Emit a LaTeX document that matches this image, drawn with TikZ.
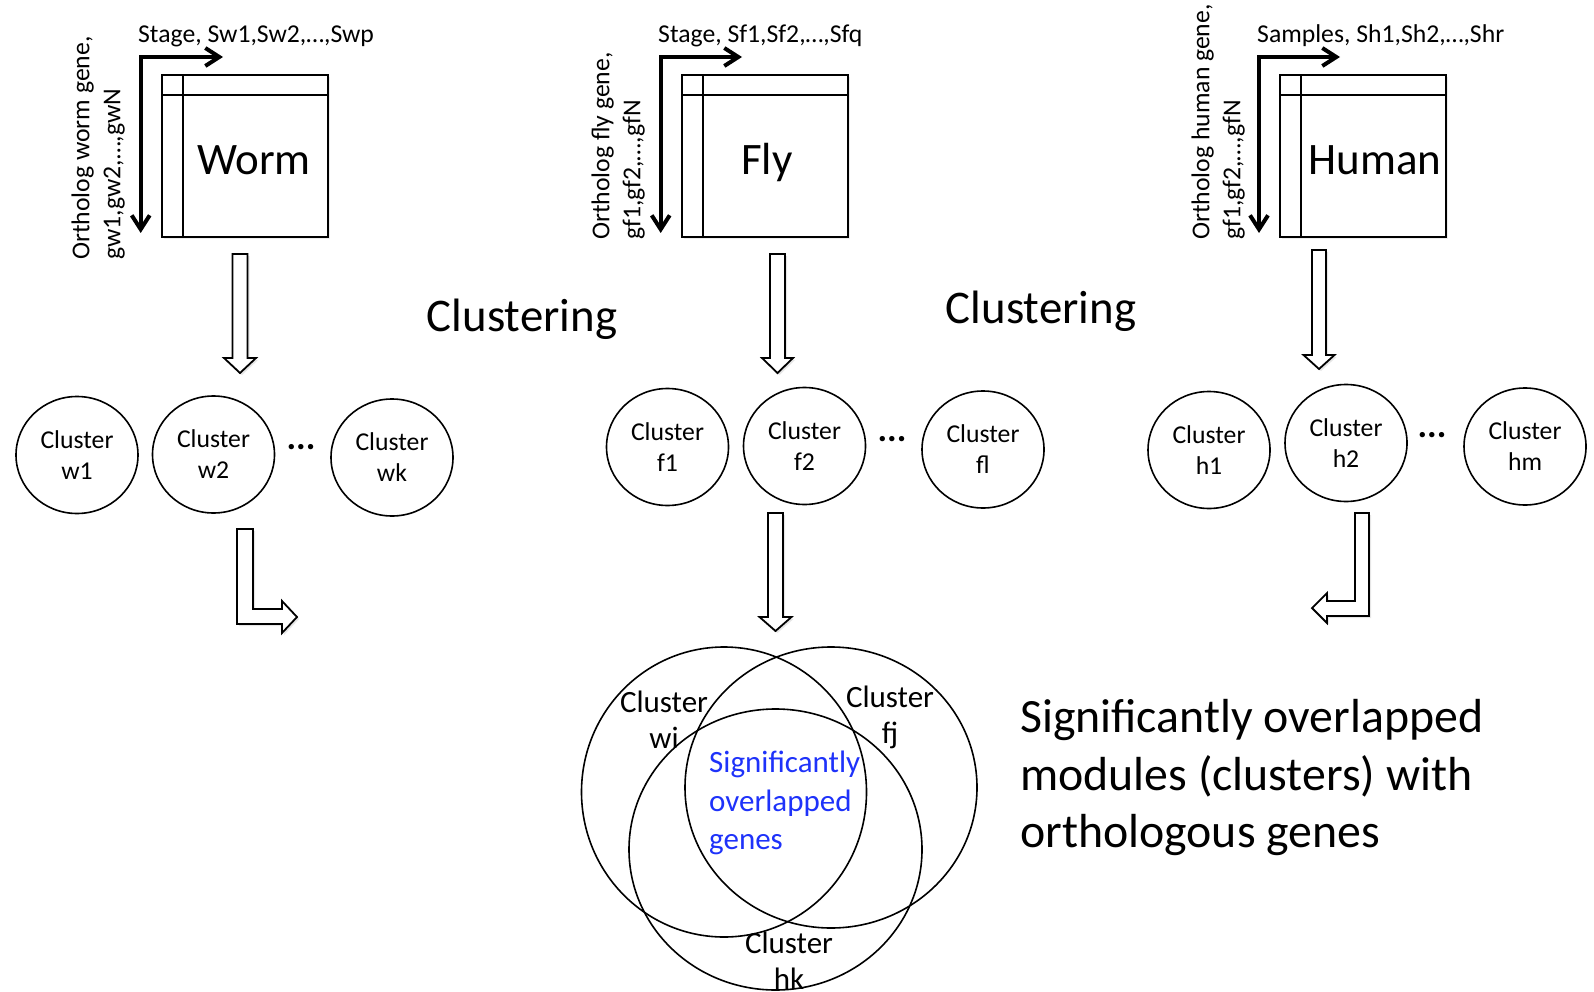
\documentclass[tikz,border=0pt]{standalone}
\usepackage{fontspec}
\setmainfont{Carlito}
\usepackage{tikz}
\usetikzlibrary{arrows.meta,shapes,shadows,positioning}

\definecolor{overlapblue}{RGB}{30,50,250}

\tikzset{
	matrixbox/.style={draw, line width=1.8pt, fill=white, minimum width=166pt, minimum height=162pt, inner sep=0pt,
		drop shadow={opacity=0.15, shadow xshift=2pt, shadow yshift=-2pt}},
	cluster/.style={draw, ellipse, line width=1.6pt, minimum width=122pt, minimum height=117pt, inner sep=0pt,
		align=center, font=\fontsize{25.7}{31}\selectfont},
	venn/.style={draw, ellipse, line width=1.6pt, inner sep=0pt},
	venntext/.style={align=center, inner sep=0pt, font=\fontsize{31}{36}\selectfont},
	hollow/.style={draw, line width=1.8pt, fill=white, line join=miter,
		drop shadow={opacity=0.2, shadow xshift=2pt, shadow yshift=-2pt}},
	axisarrow/.style={line width=4pt, {Straight Barb[length=14pt,width=18pt]}-{Straight Barb[length=14pt,width=18pt]}},
	smalltext/.style={font=\fontsize{25.7}{31}\selectfont, inner sep=0pt},
	bigtext/.style={font=\fontsize{45}{54}\selectfont, inner sep=0pt},
	dotstext/.style={font=\fontsize{36}{40}\selectfont\bfseries, inner sep=0pt},
}

\begin{document}
\begin{tikzpicture}[x=1pt, y=-1pt]
	\useasboundingbox (0,0) rectangle (1594,992);

	% expression matrices
	\node[matrixbox] (worm) at (245,156) {};
	\node[matrixbox] (fly) at (765,156) {};
	\node[matrixbox] (human) at (1363.3,156) {};
	\foreach \m in {worm,fly,human}{
		\draw[line width=1.8pt] ([xshift=21.6pt]\m.north west) -- ([xshift=21.6pt]\m.south west);
		\draw[line width=1.8pt] ([yshift=-20.7pt]\m.north west) -- ([yshift=-20.7pt]\m.north east);
	}
	\node[bigtext, anchor=base] (wormname) at (254,175) {Worm};
	\node[bigtext, anchor=base] (flyname) at (767,175) {Fly};
	\node[bigtext, anchor=base] (humanname) at (1375,175) {Human};

	% row and column axes
	\draw[axisarrow] (140.7,233) |- (223,57);
	\draw[axisarrow] (660.7,233) |- (742,57);
	\draw[axisarrow] (1259,233) |- (1340,57);
	\node[smalltext, anchor=base west] (wormcols) at (138,43) {Stage, Sw1,Sw2,…,Swp};
	\node[smalltext, anchor=base west] (flycols) at (658,43) {Stage, Sf1,Sf2,…,Sfq};
	\node[smalltext, anchor=base west] (humancols) at (1257,43) {Samples, Sh1,Sh2,…,Shr};
	\node[smalltext, rotate=90, anchor=south west, align=left] (wormrows) at (125,260) {Ortholog worm gene,\\gw1,gw2,…,gwN};
	\node[smalltext, rotate=90, anchor=south west, align=left] (flyrows) at (645,240) {Ortholog fly gene,\\gf1,gf2,…,gfN};
	\node[smalltext, rotate=90, anchor=south west, align=left] (humanrows) at (1245,240) {Ortholog human gene,\\gf1,gf2,…,gfN};

	% clustering step
	\draw[hollow] (232.5,254) -- (247.5,254) -- (247.5,358) -- (256,358) -- (240,373) -- (224,358) -- (232.5,358) -- cycle;
	\draw[hollow] (770,254) -- (785,254) -- (785,358) -- (793,358) -- (777.5,373) -- (762,358) -- (770,358) -- cycle;
	\draw[hollow] (1312,250) -- (1326,250) -- (1326,355) -- (1334.5,355) -- (1319,369) -- (1303.5,355) -- (1312,355) -- cycle;
	\node[font=\fontsize{46.8}{56}\selectfont, anchor=base, inner sep=0pt] (clustering1) at (522,331) {Clustering};
	\node[font=\fontsize{46.8}{56}\selectfont, anchor=base, inner sep=0pt] (clustering2) at (1041,323) {Clustering};

	% clusters per species
	\node[cluster] (w1) at (77,455) {Cluster\\w1};
	\node[cluster] (w2) at (213.5,454.5) {Cluster\\w2};
	\node[cluster] (wk) at (392,457.5) {Cluster\\wk};
	\node[dotstext] (wdots) at (301,447) {...};
	\node[cluster] (f1) at (667.5,447) {Cluster\\f1};
	\node[cluster] (f2) at (804.5,446) {Cluster\\f2};
	\node[cluster] (fl) at (983,449.5) {Cluster\\fl};
	\node[dotstext] (fdots) at (892,439) {...};
	\node[cluster] (h1) at (1209,450) {Cluster\\h1};
	\node[cluster] (h2) at (1346,443) {Cluster\\h2};
	\node[cluster] (hm) at (1525,446.5) {Cluster\\hm};
	\node[dotstext] (hdots) at (1432,435) {...};

	% into the overlap
	\draw[hollow] (237,529) -- (253,529) -- (253,609) -- (282,609) -- (282,601) -- (297,617) -- (282,633) -- (282,624) -- (237,624) -- cycle;
	\draw[hollow] (768,513) -- (783,513) -- (783,617) -- (791.5,617) -- (775.5,631) -- (759.5,617) -- (768,617) -- cycle;
	\draw[hollow] (1355,513) -- (1369,513) -- (1369,616) -- (1327,616) -- (1327,623) -- (1312,608) -- (1327,593) -- (1327,601) -- (1355,601) -- cycle;

	% venn diagram
	\node[venn, minimum width=285pt, minimum height=290pt] (vw) at (724,792) {};
	\node[venn, minimum width=292pt, minimum height=281pt] (vf) at (831,787.5) {};
	\node[venn, minimum width=293pt, minimum height=281pt] (vh) at (775.5,849.5) {};
	\node[venntext] (wi) at (664,720) {Cluster\\wi};
	\node[venntext] (fj) at (890,717) {Cluster\\fj};
	\node[venntext] (hk) at (789,961) {Cluster\\hk};
	\node[text=overlapblue, font=\fontsize{31}{38.5}\selectfont, align=left, anchor=west, inner sep=0pt] (overlap) at (709,803) {Significantly\\overlapped\\genes};

	\node[font=\fontsize{47.8}{57.5}\selectfont, align=left, anchor=west, inner sep=0pt] (summary) at (1020,778) {Significantly overlapped\\modules (clusters) with\\orthologous genes};
\end{tikzpicture}
\end{document}
